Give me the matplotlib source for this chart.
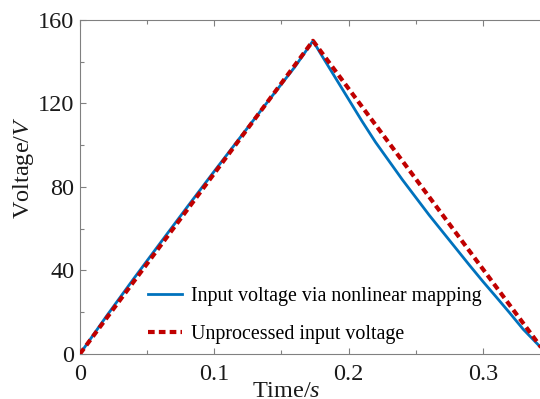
import matplotlib
matplotlib.use('Agg')
import matplotlib.pyplot as plt
from matplotlib.ticker import MultipleLocator

# data
t_red = [0.0, 0.1735, 0.347]
v_red = [0.0, 150.0, 0.0]

t_blue = [0.0, 0.02, 0.04, 0.06, 0.08, 0.10, 0.12, 0.14, 0.16, 0.1735,
          0.18, 0.19, 0.20, 0.21, 0.22, 0.23, 0.24, 0.25, 0.26, 0.27,
          0.28, 0.29, 0.30, 0.31, 0.32, 0.33, 0.3425]
v_blue = [0.0, 18.3, 36.0, 53.3, 70.5, 87.5, 104.3, 121.0, 137.5, 150.0,
          143.0, 132.5, 122.0, 111.5, 101.5, 92.5, 83.5, 75.0, 66.5, 58.5,
          50.5, 42.5, 34.7, 27.2, 19.6, 11.8, 3.5]

x_ticks = [0, 0.1, 0.2, 0.3]
y_ticks = [0, 40, 80, 120, 160]

plt.rcParams['font.family'] = ['Liberation Serif', 'DejaVu Serif']
plt.rcParams['mathtext.fontset'] = 'custom'
plt.rcParams['mathtext.rm'] = 'Liberation Serif'
plt.rcParams['mathtext.it'] = 'Liberation Serif:italic'

fig = plt.figure(figsize=(5.4, 3.99), dpi=100)
ax = fig.add_axes([0.148, 0.113, 0.852, 0.837])

ax.plot(t_blue, v_blue, color='#0072BD', lw=2.0, label='Input voltage via nonlinear mapping', zorder=2)
ax.plot(t_red, v_red, color='#C00000', lw=3.0, dashes=(1.6, 1.0), label='Unprocessed input voltage', zorder=3)

ax.set_xlim(0, 0.3425)
ax.set_ylim(0, 160)
ax.set_xticks(x_ticks)
ax.set_xticklabels(['0', '0.1', '0.2', '0.3'])
ax.set_yticks(y_ticks)
ax.xaxis.set_minor_locator(MultipleLocator(0.05))
ax.yaxis.set_minor_locator(MultipleLocator(20))
ax.tick_params(which='both', direction='in', top=True, right=False,
               colors='#808080', labelcolor='#1a1a1a', labelsize=17.5, width=0.8)
ax.tick_params(which='major', length=4)
ax.tick_params(which='minor', length=3)
ax.tick_params(axis='x', pad=7)
ax.tick_params(axis='y', pad=4)
for s in ['left', 'bottom', 'top']:
    ax.spines[s].set_color('#808080')
    ax.spines[s].set_linewidth(0.8)
ax.spines['right'].set_visible(False)

ax.set_xlabel('Time/$\\mathit{s}$', fontsize=17.5, color='#1a1a1a')
ax.xaxis.set_label_coords(0.448, -0.08, transform=ax.transAxes)
ax.xaxis.label.set_va('top')
ax.set_ylabel('Voltage/$\\mathit{V}$', fontsize=17.5, color='#1a1a1a')
ax.yaxis.set_label_coords(-0.096, 0.557, transform=ax.transAxes)

ax.legend(loc='lower left', bbox_to_anchor=(0.127, 0.0), frameon=False, fontsize=14.4,
          handlelength=1.7, handletextpad=0.45, labelspacing=0.95, borderaxespad=0.1)

fig.savefig('out.png', dpi=100)
